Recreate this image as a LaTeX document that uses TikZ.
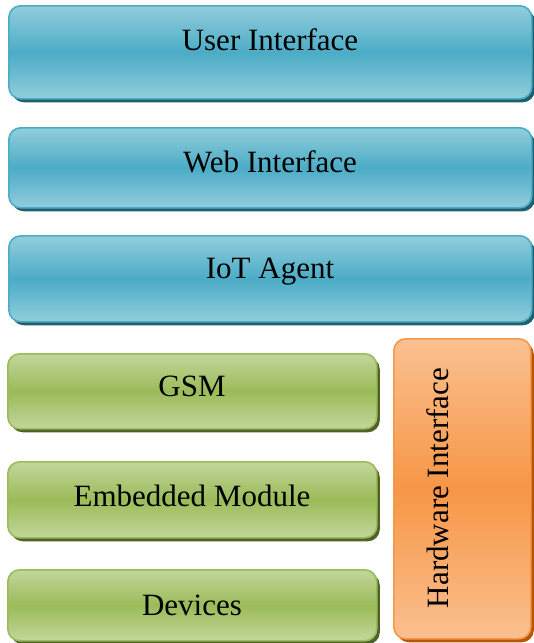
\documentclass[tikz,border=0pt]{standalone}
\usepackage{fontspec}
\setmainfont{Liberation Serif}
\newfontfamily\lblfont{Liberation Serif}
\usetikzlibrary{shadows}
\definecolor{bluelight}{HTML}{92CDDC}
\definecolor{bluemid}{HTML}{4BACC6}
\definecolor{blueedge}{HTML}{4BACC6}
\definecolor{blueshadow}{HTML}{215F6F}
\definecolor{greenlight}{HTML}{C3D69B}
\definecolor{greenmid}{HTML}{9BBB59}
\definecolor{greenedge}{HTML}{9BBB59}
\definecolor{greenshadow}{HTML}{4F6228}
\definecolor{orangelight}{HTML}{FAC090}
\definecolor{orangemid}{HTML}{F79646}
\definecolor{orangeedge}{HTML}{F79646}
\definecolor{orangeshadow}{HTML}{B65708}
\tikzset{
  layerbox/.style={draw, line width=1.6pt, rounded corners=12pt, anchor=north west, inner sep=0pt},
  bluebox/.style={layerbox, draw=blueedge, top color=bluelight, bottom color=bluelight, middle color=bluemid,
    drop shadow={shadow xshift=3pt, shadow yshift=-3.5pt, fill=blueshadow, opacity=1}},
  greenbox/.style={layerbox, draw=greenedge, top color=greenlight, bottom color=greenlight, middle color=greenmid,
    drop shadow={shadow xshift=3pt, shadow yshift=-3.5pt, fill=greenshadow, opacity=1}},
  orangebox/.style={layerbox, draw=orangeedge, top color=orangelight, bottom color=orangelight, middle color=orangemid,
    drop shadow={shadow xshift=3pt, shadow yshift=-3.5pt, fill=orangeshadow, opacity=1}},
  lbl/.style={font=\lblfont\fontsize{31}{37}\selectfont, text=black, inner sep=0pt}
}
\begin{document}
\begin{tikzpicture}[x=1pt,y=-1pt]
\useasboundingbox (0,0) rectangle (534,643);
% blue layers
\node[bluebox, minimum width=523pt, minimum height=93pt] (ui) at (8,5) {};
\node[bluebox, minimum width=523pt, minimum height=80pt] (web) at (8,127) {};
\node[bluebox, minimum width=523pt, minimum height=86pt] (iot) at (8,235) {};
% green layers
\node[greenbox, minimum width=369pt, minimum height=75pt] (gsm) at (7,353) {};
\node[greenbox, minimum width=369pt, minimum height=76pt] (emb) at (7,461) {};
\node[greenbox, minimum width=369pt, minimum height=71pt] (dev) at (7,569) {};
% orange
\node[orangebox, minimum width=137pt, minimum height=300pt] (hw) at (393,338) {};
% labels
\node[lbl] (tui) at (270,40) {User Interface};
\node[lbl] (tweb) at (270,162) {Web Interface};
\node[lbl] (tiot) at (270,272) {IoT Agent};
\node[lbl] (tgsm) at (192,386) {GSM};
\node[lbl] (temb) at (192,496) {Embedded Module};
\node[lbl] (tdev) at (192,605) {Devices};
\node[lbl, rotate=90] (thw) at (438,488) {Hardware Interface};
\end{tikzpicture}
\end{document}
